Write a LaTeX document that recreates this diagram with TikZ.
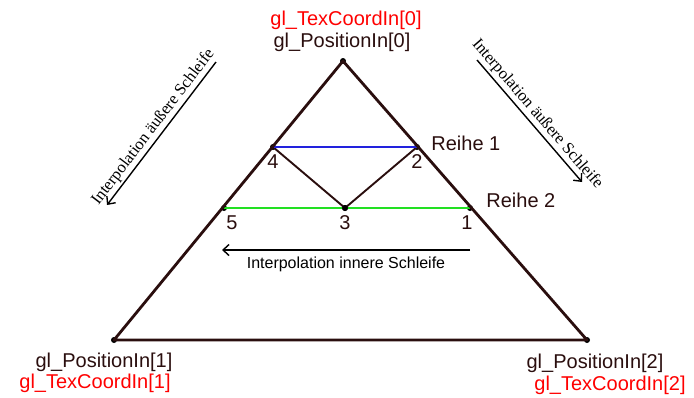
\documentclass[tikz,border=0pt]{standalone}
\usepackage{fontspec}
\setmainfont{Liberation Sans}
\newfontfamily\serifschrift{Liberation Serif}
\usepackage{tikz}
\usetikzlibrary{positioning,arrows.meta,calc}
\definecolor{braun}{HTML}{2A0E0E}
\definecolor{rot}{HTML}{FF0000}
\definecolor{blau}{HTML}{2222DD}
\definecolor{gruen}{HTML}{22E022}

\begin{document}
\begin{tikzpicture}[x=1pt, y=-1pt, >={Straight Barb[length=6pt, width=11pt]},
      pt/.style={circle, fill=black, inner sep=0pt, minimum size=6pt},
      gross/.style={font=\fontsize{20}{22}\selectfont, inner sep=0pt, text=braun},
      rotlbl/.style={gross, text=rot},
      zahl/.style={font=\fontsize{20}{22}\selectfont, inner sep=0pt, text=braun},
      kante/.style={draw=braun, line width=2.8pt, line join=round},
      innen/.style={line width=1.9pt},
      pfeil/.style={->, line width=1.4pt, black},
      schraeg/.style={font=\serifschrift\fontsize{16.5}{18}\selectfont, sloped, above=1pt, inner sep=1pt}]
    \useasboundingbox (0,0) rectangle (694,397);
    % Eckpunkte und Zwischenpunkte
    \node[pt] (p0) at (343,61) {};
    \node[pt] (p1) at (114,340) {};
    \node[pt] (p2e) at (587,340) {};
    \node[pt] (r4) at (273,147) {};
    \node[pt] (r2) at (417,147) {};
    \node[pt] (r5) at (224,208) {};
    \node[pt] (r3) at (345,208) {};
    \node[pt] (r1) at (470,208) {};
    \draw[braun, innen] (r4.center) -- (r3.center) -- (r2.center);
    \draw[blau, innen] (r4.center) -- (r2.center);
    \draw[gruen, innen] (r5.center) -- (r1.center);
    \draw[kante] (p0.center) -- (p1.center) -- (p2e.center) -- cycle;
    \node[pt] at (r3) {};
    % Beschriftung der Ecken
    \node[gross] (pos0) at ($(p0)+(-1,-19)$) {gl\_PositionIn[0]};
    \node[rotlbl, above=3pt of pos0, xshift=4pt] (tex0) {gl\_TexCoordIn[0]};
    \node[gross] (pos1) at ($(p1)+(-10,22)$) {gl\_PositionIn[1]};
    \node[rotlbl, below=2pt of pos1, xshift=-9pt] (tex1) {gl\_TexCoordIn[1]};
    \node[gross] (pos2) at ($(p2e)+(8,23)$) {gl\_PositionIn[2]};
    \node[rotlbl, below=3pt of pos2, xshift=15pt] (tex2) {gl\_TexCoordIn[2]};
    % Nummern und Reihen
    \node[zahl, below=4pt of r4] (n4) {4};
    \node[zahl, below=4pt of r2] (n2) {2};
    \node[zahl, below=4pt of r5, xshift=8pt] (n5) {5};
    \node[zahl, below=4pt of r3] (n3) {3};
    \node[zahl, below=4pt of r1, xshift=-3pt] (n1) {1};
    \node[gross, right=11pt of r2, yshift=4pt] (reihe1) {Reihe 1};
    \node[gross, right=13pt of r1, yshift=8pt] (reihe2) {Reihe 2};
    % Pfeile
    \coordinate (ia) at (470,250);
    \coordinate (ib) at (222,250);
    \draw[pfeil] (ia) -- node[below=6pt, font=\fontsize{16}{18}\selectfont, inner sep=0pt] (innere) {Interpolation innere Schleife} (ib);
    \coordinate (la) at (216,62);
    \coordinate (lb) at (107,205);
    \draw[pfeil] (la) -- node[schraeg] (links) {Interpolation äußere Schleife} (lb);
    \coordinate (ra) at (477,60);
    \coordinate (rb) at (582,182);
    \draw[pfeil] (ra) -- node[schraeg] (rechts) {Interpolation äußere Schleife} (rb);
  \end{tikzpicture}
\end{document}
